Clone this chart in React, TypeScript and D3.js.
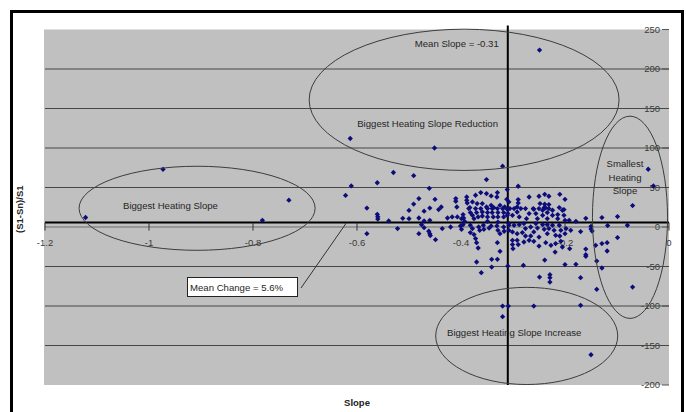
import React from 'react';
import * as d3 from 'd3';

const W = 686;
const H = 412;

// Axis ticks
const slopeTicks = [-1.2, -1, -0.8, -0.6, -0.4, -0.2, 0];
const slopeTickLabels = ['-1.2', '-1', '-0.8', '-0.6', '-0.4', '-0.2', '0'];
const changeTicks = [250, 200, 150, 100, 50, 0, -50, -100, -150, -200];

// Means where the axes cross
const meanSlope = -0.31;
const meanChange = 5.6;

// [slope, (S1-Sn)/S1 in %]
const observations: [number, number][] = [
  [-0.249, 224], [-0.613, 112], [-0.451, 100], [-0.32, 77], [-0.973, 73], [-0.731, 34], [-1.122, 12], [-0.782, 8.5],
  [-0.53, 69], [-0.491, 65], [-0.611, 52], [-0.561, 56], [-0.622, 40], [-0.461, 49], [-0.581, 24], [-0.481, 36],
  [-0.491, 29], [-0.45, 35], [-0.561, 16], [-0.56, 13], [-0.56, 10], [-0.5, 21], [-0.46, 24], [-0.471, 20],
  [-0.443, 22], [-0.539, 7.6], [-0.512, 11], [-0.5, 10.6], [-0.481, 11.4], [-0.471, 7.6], [-0.46, 8.5], [-0.522, -2],
  [-0.476, 3], [-0.581, -8.4], [-0.481, -8.4], [-0.471, -0.8], [-0.462, -5.4], [-0.46, -8.4], [-0.459, -10.9], [-0.449, -16],
  [-0.351, 60], [-0.41, 36], [-0.41, 32.6], [-0.389, 38], [-0.389, 33.8], [-0.388, 30.4], [-0.372, 40.2], [-0.362, 43.6],
  [-0.351, 42.3], [-0.342, 39.3], [-0.33, 43.6], [-0.331, 38], [-0.312, 35.1], [-0.378, 31.7], [-0.369, 29.6], [-0.359, 29.6],
  [-0.351, 25.3], [-0.342, 27.5], [-0.337, 24.6], [-0.325, 27.5], [-0.316, 25.3], [-0.308, 31.7], [-0.383, 24.6], [-0.408, 25.3],
  [-0.438, 25.3],
  [-0.426, 11.4], [-0.417, 12.7], [-0.407, 12.7], [-0.399, 10.6], [-0.396, 15.7], [-0.395, 11.4], [-0.393, 7.2], [-0.396, 3],
  [-0.385, 23.3], [-0.382, 18.2], [-0.378, 14.8], [-0.375, 10.6], [-0.372, 23.3], [-0.37, 18.2], [-0.367, 12.7], [-0.362, 23.3],
  [-0.359, 19], [-0.359, 13.9], [-0.349, 23.3], [-0.349, 18.2], [-0.349, 12.7], [-0.349, 7.2], [-0.34, 23.3], [-0.34, 18.2],
  [-0.338, 12.7], [-0.33, 23.3], [-0.329, 18.2], [-0.329, 12.7], [-0.329, 6.3], [-0.32, 23.3], [-0.318, 18.2], [-0.318, 12.7],
  [-0.311, 22.4], [-0.31, 17], [-0.436, -2], [-0.42, 0], [-0.401, 1.3], [-0.399, -2.9], [-0.382, 2.2], [-0.378, -2],
  [-0.382, -7.1], [-0.375, -9.6], [-0.366, 0], [-0.364, -4.2], [-0.357, 2.2], [-0.356, -2.9], [-0.346, -1.3], [-0.342, 1.3],
  [-0.331, 1.3], [-0.329, -4.2], [-0.325, -8.4], [-0.318, 0], [-0.317, -5.4], [-0.308, 2.2], [-0.308, -4.2], [-0.372, -14.7],
  [-0.37, -19.8], [-0.367, -26.6], [-0.33, -19.8], [-0.325, -30.8],
  [-0.29, 51.6], [-0.311, 47.4], [-0.29, 34.7], [-0.29, 30.4], [-0.292, 25.3], [-0.269, 38], [-0.25, 38.9], [-0.239, 41.4],
  [-0.231, 38.9], [-0.21, 41.4], [-0.2, 35.1], [-0.248, 29.6], [-0.239, 28.8], [-0.231, 28.4], [-0.261, 23.3], [-0.25, 23.3],
  [-0.24, 24.6], [-0.231, 23.3], [-0.211, 24.6], [-0.202, 22], [-0.306, 23.3],
  [-0.298, 23.3], [-0.292, 19], [-0.285, 23.3], [-0.311, 14.8], [-0.301, 14.8], [-0.288, 12.7], [-0.276, 23.3], [-0.269, 17],
  [-0.274, 10.6], [-0.26, 22.4], [-0.256, 17], [-0.253, 10.6], [-0.243, 21.2], [-0.243, 14.8], [-0.237, 24.1], [-0.234, 18.2],
  [-0.234, 10.6], [-0.224, 21.2], [-0.224, 14.8], [-0.214, 15.7], [-0.214, 10.6], [-0.205, 21.2], [-0.202, 14.8], [-0.2, 8.5],
  [-0.179, 7.2], [-0.192, 8.5], [-0.308, 4.3], [-0.298, 2.2], [-0.288, 3], [-0.279, 4.3], [-0.276, -2], [-0.266, 0],
  [-0.256, 4.3], [-0.253, -1.3], [-0.26, -6.3], [-0.243, 3], [-0.24, -2.9], [-0.234, 3], [-0.231, -2], [-0.234, -8.4],
  [-0.224, 2.2], [-0.221, -4.2], [-0.218, -10.5], [-0.211, 2.2], [-0.208, -4.2], [-0.21, -11.4], [-0.198, -2], [-0.2, -8.4],
  [-0.189, -4.2], [-0.301, -6.3], [-0.292, -8.4], [-0.282, -7.1], [-0.276, -11.4], [-0.266, -11.4], [-0.25, -12.7], [-0.301, -16.9],
  [-0.301, -22.3], [-0.3, -27.4], [-0.292, -16.9], [-0.29, -22.3], [-0.279, -19], [-0.269, -16.9], [-0.26, -18.1], [-0.237, -19.8],
  [-0.227, -23.2], [-0.218, -21], [-0.208, -18.1], [-0.205, -25.3], [-0.219, -31.7], [-0.191, -27.4], [-0.25, -24.1],
  [-0.04, 73.1], [-0.03, 51.9], [-0.07, 27.1], [-0.16, 11], [-0.129, 11.9], [-0.099, 13.2], [-0.118, 1.8], [-0.08, 2.2],
  [-0.17, -5.8], [-0.15, 0.9], [-0.15, -2.5], [-0.148, -5.1], [-0.099, -13.4], [-0.141, -23.2], [-0.129, -21], [-0.119, -19.8],
  [-0.16, -27.9], [-0.16, -35], [-0.16, -37.1], [-0.119, -30.4], [-0.179, -47.3], [-0.139, -43.1], [-0.129, -51.9], [-0.17, -64.1],
  [-0.139, -78.9], [-0.07, -76], [-0.17, -99.2],
  [-0.37, -44.3], [-0.361, -57.8], [-0.341, -40.9], [-0.33, -40.9], [-0.341, -50.7], [-0.31, -49.4], [-0.28, -48.5], [-0.239, -41.8],
  [-0.249, -63.4], [-0.229, -60.3], [-0.229, -64.1], [-0.229, -69.7], [-0.2, -47.6], [-0.32, -100.1], [-0.309, -100.1], [-0.26, -100.1],
  [-0.32, -113.5], [-0.15, -161.7],
];

// Highlighted groups, in data units: centre slope, centre change, half-widths
const groupSlopes = [-0.394, -0.9075, -0.075, -0.2736];
const groupChanges = [161, 23.7, 12.3, -137.9];
const groupRadiiSlope = [0.298, 0.227, 0.0722, 0.175];
const groupRadiiChange = [89.4, 53.2, 128, 61.5];

const FONT = '"Liberation Sans", Arial, sans-serif';
const TEXT = '#262626';

export default function App() {
  const x = d3.scaleLinear().domain([-1.2, 0]).range([45, 669]);
  const y = d3.scaleLinear().domain([-200, 250]).range([385, 29.5]);
  const [x0, x1] = x.range();
  const [yb, yt] = y.range();
  const marker = d3.symbol().type(d3.symbolSquare).size(14)() as string;
  const axisY = y(meanChange);
  const axisX = x(meanSlope);

  return (
    <svg
      width={W}
      height={H}
      viewBox={`0 0 ${W} ${H}`}
      style={{ position: 'absolute', left: 0, top: 0, background: '#fff' }}
      fontFamily={FONT}
    >
      <rect x={0} y={0} width={W} height={H} fill="#fff" />
      <rect x={11.5} y={11.5} width={671} height={420} fill="none" stroke="#000" strokeWidth={3} />

      {/* plot area */}
      <rect x={x0 - 1} y={yt} width={x1 - x0 + 1} height={yb - yt} fill="#c0c0c0" />

      {/* value labels for the change axis */}
      {changeTicks.map((t) => (
        <g key={`yl${t}`}>
          <text x={660} y={y(t)} dy="0.35em" textAnchor="end" fontSize={9.5} fill="#3a3a3a">
            {t}
          </text>
          <line x1={662} x2={669} y1={y(t)} y2={y(t)} stroke="#555" strokeWidth={1} />
        </g>
      ))}

      {/* gridlines */}
      {changeTicks
        .filter((t) => t !== 250 && t !== -200)
        .map((t) => (
          <line
            key={`g${t}`}
            x1={x0}
            x2={x1}
            y1={y(t)}
            y2={y(t)}
            stroke={t === 0 ? '#6e6e6e' : '#474747'}
            strokeWidth={1.2}
          />
        ))}

      {/* slope axis at the mean change */}
      <line x1={x0} x2={x1} y1={axisY} y2={axisY} stroke="#000" strokeWidth={2} />
      {slopeTicks.map((t, i) => (
        <g key={`xt${t}`}>
          <line x1={x(t)} x2={x(t)} y1={axisY} y2={axisY + 8} stroke="#333" strokeWidth={1} />
          <text x={x(t)} y={axisY + 23} textAnchor="middle" fontSize={9.5} fill="#3a3a3a">
            {slopeTickLabels[i]}
          </text>
        </g>
      ))}

      {/* change axis at the mean slope */}
      <line x1={axisX} x2={axisX} y1={yt - 4} y2={yb} stroke="#000" strokeWidth={2} />

      {/* observations */}
      {observations.map(([s, c], i) => (
        <path
          key={`p${i}`}
          d={marker}
          transform={`translate(${x(s)},${y(c)}) rotate(45)`}
          fill="#0c0c7a"
        />
      ))}

      {/* highlighted groups */}
      {groupSlopes.map((s, i) => (
        <ellipse
          key={`e${i}`}
          cx={x(s)}
          cy={y(groupChanges[i])}
          rx={x(s + groupRadiiSlope[i]) - x(s)}
          ry={y(groupChanges[i] - groupRadiiChange[i]) - y(groupChanges[i])}
          fill="none"
          stroke="#3c3c3c"
          strokeWidth={1}
        />
      ))}

      <g fontSize={9.6} fill={TEXT}>
        <text x={axisX - 9} y={47} textAnchor="end">Mean Slope = -0.31</text>
        <text x={498} y={127} textAnchor="end">Biggest Heating Slope Reduction</text>
        <text x={123} y={209}>Biggest Heating Slope</text>
        <text x={625} y={167} textAnchor="middle">Smallest</text>
        <text x={625} y={180.5} textAnchor="middle">Heating</text>
        <text x={625} y={194} textAnchor="middle">Slope</text>
        <text x={447} y={336}>Biggest Heating Slope Increase</text>
      </g>

      {/* mean change call-out */}
      <line x1={x(-0.62)} y1={axisY} x2={301} y2={288} stroke="#333" strokeWidth={1} />
      <rect x={187.5} y={277.5} width={110} height={19} fill="#fff" stroke="#222" strokeWidth={1} />
      <text x={190} y={290.5} fontSize={9.6} fill={TEXT}>Mean Change = 5.6%</text>

      {/* axis titles */}
      <text
        transform={`translate(23,${(yt + yb) / 2 + 2}) rotate(-90)`}
        textAnchor="middle"
        fontSize={9.5}
        fontWeight="bold"
        fill="#222"
      >
        (S1-Sn)/S1
      </text>
      <text x={(x0 + x1) / 2} y={406} textAnchor="middle" fontSize={9.5} fontWeight="bold" fill="#222">
        Slope
      </text>
    </svg>
  );
}
